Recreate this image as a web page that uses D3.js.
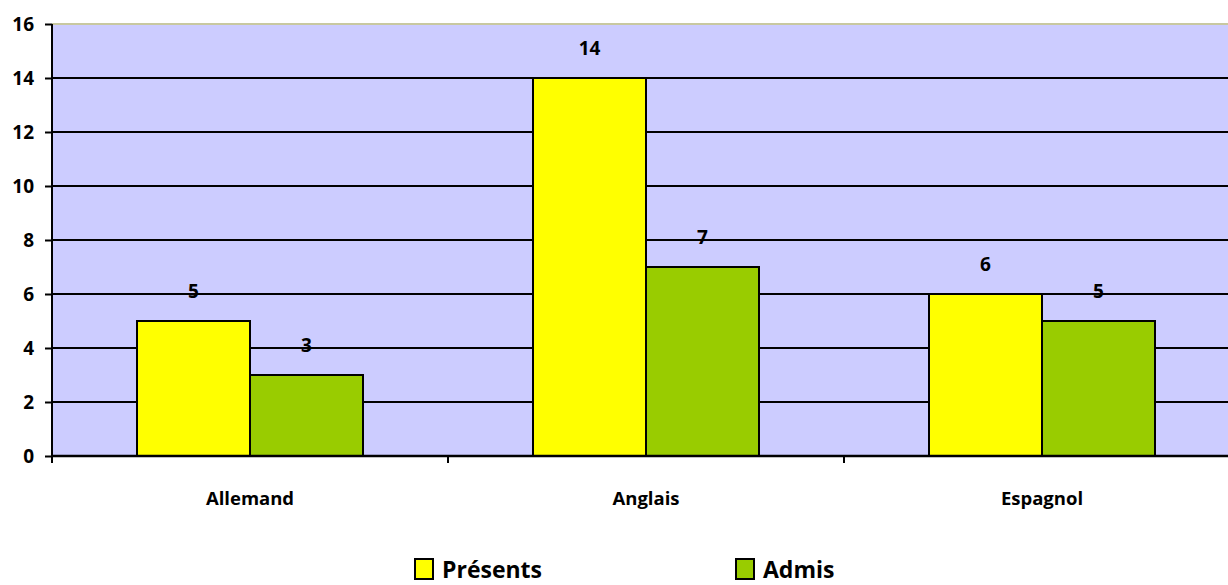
<!DOCTYPE html>
<html>
<head>
	<title> langues </title>
	<script src="https://d3js.org/d3.v7.min.js"></script>
	<style>
		body { margin: 0; background: white; }
		text { font-family: "Open Sans", sans-serif; font-weight: bold; }
	</style>
</head>
<body>
	<svg id="chart"></svg>
	<script type="text/javascript">

		// values
		const categories = ["Allemand", "Anglais", "Espagnol"];
		const series = ["Présents", "Admis"];
		const presents = [5, 14, 6];
		const admis = [3, 7, 5];
		const yTicks = [0, 2, 4, 6, 8, 10, 12, 14, 16];
		const colors = ["#ffff00", "#99cc00"];

		const w = 1228, h = 585;
		const left_border = 52, right_edge = 1240, top_border = 24, bottom_edge = 456;

		const svg = d3.select("#chart").attr("width", w).attr("height", h);

		const x = d3.scaleBand().domain(categories).range([left_border, right_edge]).paddingInner(0).paddingOuter(0);
		const xs = d3.scaleBand().domain(series).range([85, x.bandwidth() - 85]);
		const y = d3.scaleLinear().domain([0, 16]).range([bottom_edge, top_border]);

		// plot background
		svg.append("rect").attr("x", left_border).attr("y", top_border)
			.attr("width", right_edge - left_border).attr("height", bottom_edge - top_border)
			.style("fill", "#ccccff");

		// gridlines
		svg.append("g").selectAll("line").data(yTicks.filter(d => d > 0 && d < 16)).join("line")
			.attr("x1", left_border).attr("x2", right_edge)
			.attr("y1", d => y(d)).attr("y2", d => y(d))
			.style("stroke", "black").style("stroke-width", 2);
		svg.append("line").attr("x1", left_border).attr("x2", right_edge).attr("y1", y(16)).attr("y2", y(16))
			.style("stroke", "#c8c8a0").style("stroke-width", 2);

		// bars
		const data = [];
		categories.forEach((c, i) => {
			data.push({cat: c, s: series[0], v: presents[i], col: colors[0]});
			data.push({cat: c, s: series[1], v: admis[i], col: colors[1]});
		});

		svg.append("g").selectAll("rect").data(data).join("rect")
			.attr("x", d => x(d.cat) + xs(d.s))
			.attr("width", xs.bandwidth())
			.attr("y", d => y(d.v))
			.attr("height", d => y(0) - y(d.v))
			.style("fill", d => d.col)
			.style("stroke", "black").style("stroke-width", 2);

		svg.append("g").selectAll("text").data(data).join("text")
			.attr("x", d => x(d.cat) + xs(d.s) + xs.bandwidth() / 2)
			.attr("y", d => y(d.v) - 23)
			.attr("text-anchor", "middle")
			.style("font-size", "19px")
			.text(d => d.v);

		// axes
		const yaxis = d3.axisLeft(y).tickValues(yTicks).tickSize(7).tickPadding(11);
		const gy = svg.append("g").attr("transform", "translate(" + left_border + ",0)").call(yaxis);
		gy.select(".domain").style("stroke-width", 2).attr("d", "M0," + top_border + "V" + bottom_edge);
		gy.selectAll(".tick line").style("stroke-width", 2);
		gy.selectAll(".tick text").style("font-size", "19px").style("font-family", "'Open Sans', sans-serif").style("font-weight", "bold").attr("dy", "0.35em");

		svg.append("line").attr("x1", left_border).attr("x2", right_edge).attr("y1", bottom_edge).attr("y2", bottom_edge)
			.style("stroke", "black").style("stroke-width", 2.5);

		const boundaries = categories.map(c => x(c));
		svg.append("g").selectAll("line").data(boundaries).join("line")
			.attr("x1", d => d).attr("x2", d => d).attr("y1", bottom_edge).attr("y2", bottom_edge + 7)
			.style("stroke", "black").style("stroke-width", 2);

		svg.append("g").selectAll("text").data(categories).join("text")
			.attr("x", d => x(d) + x.bandwidth() / 2)
			.attr("y", 505)
			.attr("text-anchor", "middle")
			.style("font-size", "18.5px")
			.text(d => d);

		// legend
		const legendX = [415, 736];
		const lg = svg.append("g").selectAll("g").data(series).join("g")
			.attr("transform", (d, i) => "translate(" + legendX[i] + ",559)");
		lg.append("rect").attr("width", 18).attr("height", 20)
			.style("fill", (d, i) => colors[i]).style("stroke", "black").style("stroke-width", 2);
		lg.append("text").attr("x", 27).attr("y", 19).style("font-size", "23px").text(d => d);

	</script>
</body>
</html>
